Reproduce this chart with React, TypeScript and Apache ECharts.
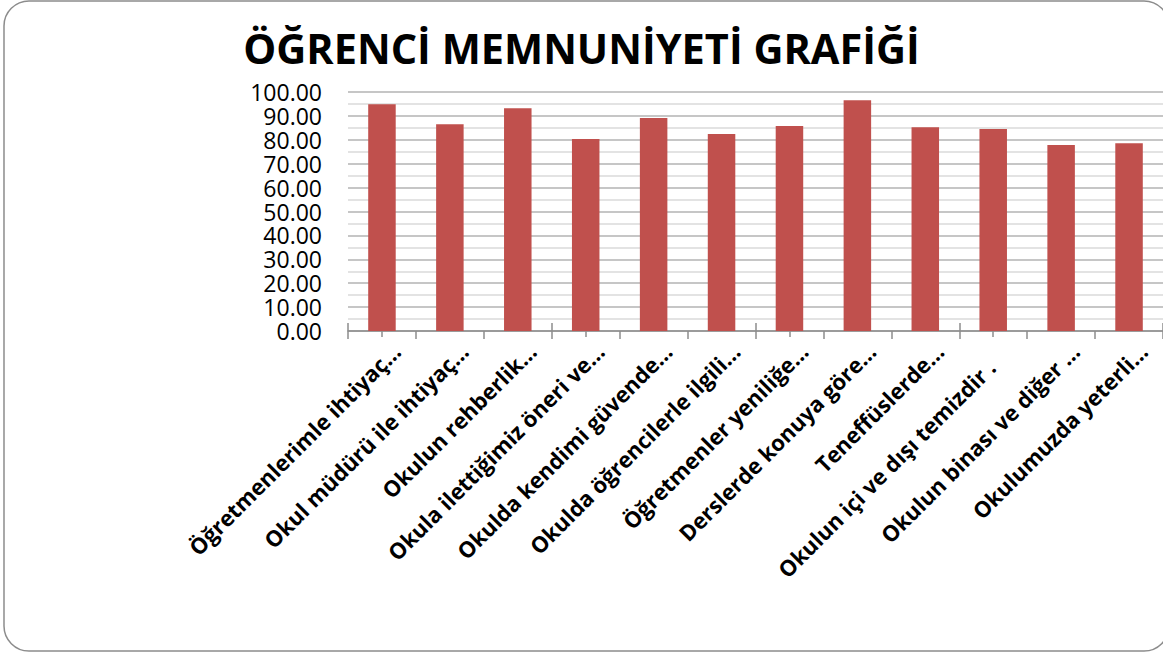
import React, { useEffect, useRef } from "react";
import * as echarts from "echarts";

const titleText = "ÖĞRENCİ MEMNUNİYETİ GRAFİĞİ";
const categories = [
  "Öğretmenlerimle ihtiyaç…",
  "Okul müdürü ile ihtiyaç…",
  "Okulun rehberlik…",
  "Okula ilettiğimiz öneri ve…",
  "Okulda kendimi güvende…",
  "Okulda öğrencilerle ilgili…",
  "Öğretmenler yeniliğe…",
  "Derslerde konuya göre…",
  "Teneffüslerde…",
  "Okulun içi ve dışı temizdir .",
  "Okulun binası ve diğer …",
  "Okulumuzda yeterli…",
];
const values = [94.9, 86.5, 93.2, 80.3, 89.1, 82.4, 85.8, 96.6, 85.3, 84.5, 77.8, 78.6];

const tickAxis = (alignWithLabel: boolean, inside: boolean, length: number) => ({
  type: "category" as const,
  data: categories,
  position: "bottom" as const,
  gridIndex: 0,
  axisLine: { show: false },
  axisLabel: { show: false },
  splitLine: { show: false },
  axisTick: {
    show: true,
    alignWithLabel,
    inside,
    length,
    lineStyle: { color: "#8c8c8c", width: 1.5 },
  },
});

export default function App() {
  const ref = useRef<HTMLDivElement>(null);
  useEffect(() => {
    if (!ref.current) return;
    const chart = echarts.init(ref.current, undefined, { renderer: "svg" });
    chart.setOption({
      animation: false,
      backgroundColor: "#ffffff",
      title: {
        text: titleText,
        left: "center",
        top: 22,
        textStyle: {
          fontFamily: "Open Sans",
          fontWeight: "bold",
          fontSize: 41.5,
          color: "#000000",
        },
      },
      grid: { left: 348, right: -5, top: 92, bottom: 324, containLabel: false },
      xAxis: [
        {
          type: "category",
          data: categories,
          position: "bottom",
          axisLine: { show: true, lineStyle: { color: "#8c8c8c", width: 1.5 } },
          axisTick: { show: true, length: 8, lineStyle: { color: "#8c8c8c", width: 1.5 } },
          axisLabel: {
            interval: 0,
            rotate: 45,
            margin: 2,
            verticalAlign: "top",
            padding: [8, 0, 0, 0],
            fontFamily: "Open Sans",
            fontWeight: "bold",
            fontSize: 22,
            lineHeight: 24,
            color: "#000000",
            formatter: (v: string) =>
              v.endsWith(".") ? v + "\u00a0\u00a0\u00a0\u00a0" : v,
          },
        },
        tickAxis(false, true, 8),
        tickAxis(true, false, 6),
        tickAxis(true, true, 6),
      ],
      yAxis: {
        type: "value",
        min: 0,
        max: 100,
        interval: 10,
        axisLine: { show: false },
        axisTick: { show: false },
        axisLabel: {
          margin: 26,
          fontFamily: "Open Sans",
          fontSize: 23,
          lineHeight: 20,
          color: "#000000",
          formatter: (v: number) => v.toFixed(2),
        },
        splitLine: { show: true, lineStyle: { color: "#b3b3b3", width: 1.5 } },
        minorTick: { show: false, splitNumber: 2 },
        minorSplitLine: { show: true, lineStyle: { color: "#dadada", width: 1.5 } },
      },
      series: [
        {
          type: "bar",
          data: values,
          barWidth: "40.5%",
          itemStyle: { color: "#C0504D" },
        },
      ],
      graphic: [
        {
          type: "rect",
          shape: { x: 4, y: 1, width: 1165, height: 650, r: 25 },
          style: { fill: "none", stroke: "#8c8c8c", lineWidth: 1.5 },
          z: 100,
        },
      ],
    });
    return () => chart.dispose();
  }, []);
  return (
    <div
      ref={ref}
      style={{ position: "fixed", left: 0, top: 0, width: 1163, height: 655 }}
    />
  );
}
